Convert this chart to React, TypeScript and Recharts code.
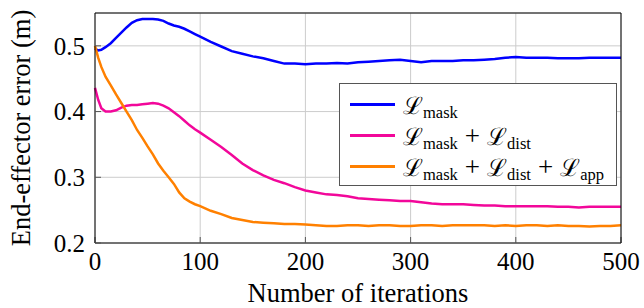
import React from "react";
import {
  LineChart,
  Line,
  XAxis,
  YAxis,
  CartesianGrid,
  Legend,
} from "recharts";

const ITERATIONS = [
  0, 3, 6, 10, 15, 20, 25, 30, 35, 40, 45, 50, 55, 60, 65, 70, 75, 80, 85, 90, 95, 100,
  110, 120, 130, 140, 150, 160, 170, 180, 190, 200, 210, 220, 230, 240, 250, 260, 270,
  280, 290, 300, 310, 320, 330, 340, 350, 360, 370, 380, 390, 400, 410, 420, 430, 440,
  450, 460, 470, 480, 490, 500,
];

const MASK = [
  0.496, 0.493, 0.494, 0.498, 0.504, 0.512, 0.52, 0.528, 0.535, 0.539, 0.541, 0.541,
  0.541, 0.54, 0.538, 0.534, 0.531, 0.529, 0.526, 0.522, 0.518, 0.514,
  0.506, 0.499, 0.492, 0.488, 0.484, 0.481, 0.477, 0.473, 0.473, 0.472, 0.473, 0.473,
  0.474, 0.473, 0.475, 0.476, 0.477, 0.478, 0.479, 0.477, 0.475, 0.477, 0.477, 0.477,
  0.478, 0.478, 0.479, 0.48, 0.482, 0.483, 0.482, 0.482, 0.482, 0.481, 0.481, 0.481,
  0.482, 0.482, 0.482, 0.482,
];

const MASK_DIST = [
  0.436, 0.418, 0.405, 0.4, 0.4, 0.402, 0.406, 0.409, 0.41, 0.41, 0.411, 0.412, 0.413,
  0.412, 0.409, 0.405, 0.399, 0.393, 0.386, 0.379, 0.373, 0.368,
  0.357, 0.346, 0.334, 0.321, 0.311, 0.303, 0.296, 0.291, 0.285, 0.28, 0.277, 0.274,
  0.273, 0.271, 0.268, 0.267, 0.266, 0.265, 0.264, 0.264, 0.262, 0.26, 0.259, 0.259,
  0.259, 0.258, 0.257, 0.257, 0.256, 0.256, 0.256, 0.256, 0.256, 0.255, 0.255, 0.254,
  0.255, 0.255, 0.255, 0.255,
];

const MASK_DIST_APP = [
  0.5, 0.482, 0.468, 0.453, 0.44, 0.426, 0.413, 0.4, 0.387, 0.372, 0.36, 0.347, 0.335,
  0.321, 0.31, 0.3, 0.29, 0.277, 0.268, 0.263, 0.259, 0.256,
  0.249, 0.244, 0.238, 0.235, 0.232, 0.231, 0.23, 0.229, 0.229, 0.228, 0.227, 0.226,
  0.226, 0.227, 0.227, 0.226, 0.227, 0.227, 0.226, 0.226, 0.227, 0.227, 0.226, 0.227,
  0.227, 0.227, 0.227, 0.226, 0.227, 0.226, 0.227, 0.227, 0.226, 0.227, 0.226, 0.226,
  0.225, 0.226, 0.226, 0.227,
];

const X_TICKS = [0, 100, 200, 300, 400, 500];
const Y_TICKS = [0.2, 0.3, 0.4, 0.5];

// legend terms, joined with "+" in the series name
const SERIES = [
  { key: "mask", name: "mask", color: "#0000ff" },
  { key: "maskDist", name: "mask+dist", color: "#f2079a" },
  { key: "maskDistApp", name: "mask+dist+app", color: "#ff8000" },
];

const FONT = "Liberation Serif";

const data = ITERATIONS.map((it, i) => ({
  it,
  mask: MASK[i],
  maskDist: MASK_DIST[i],
  maskDistApp: MASK_DIST_APP[i],
}));

function LossName({ name }: { name: string }) {
  const parts = name.split("+");
  return (
    <span style={{ whiteSpace: "nowrap", fontFamily: FONT }}>
      {parts.map((p, i) => (
        <span key={p}>
          {i > 0 && <span style={{ margin: "0 7px", fontSize: 27 }}>+</span>}
          <span style={{ fontSize: 24 }}>ℒ</span>
          <span style={{ fontSize: 16.5, position: "relative", top: 4 }}>{p}</span>
        </span>
      ))}
    </span>
  );
}

function LegendBox(props: any) {
  const payload = props.payload || [];
  return (
    <div
      style={{
        width: 276,
        height: 96,
        border: "1px solid #555",
        background: "#fff",
        fontFamily: FONT,
        fontSize: 25,
        color: "#000",
        boxSizing: "content-box",
        paddingTop: 5,
        textAlign: "left",
      }}
    >
      {payload.map((entry: any) => (
        <div
          key={entry.value}
          style={{ display: "flex", alignItems: "center", height: 31 }}
        >
          <div
            style={{
              width: 45,
              height: 3,
              background: entry.color,
              marginLeft: 10,
              marginRight: 8,
              flex: "none",
            }}
          />
          <LossName name={entry.value} />
        </div>
      ))}
    </div>
  );
}

export default function App() {
  const tickStyle = { fontSize: 25, fill: "#000", fontFamily: FONT };
  const labelStyle = { fontSize: 26.5, fill: "#000", fontFamily: FONT };
  return (
    <div style={{ position: "absolute", left: 0, top: 0, background: "#fff", fontFamily: FONT }}>
      <LineChart
        width={644}
        height={308}
        data={data}
        margin={{ top: 12, right: 22, bottom: 0, left: 0 }}
        style={{ fontFamily: FONT }}
      >
        <CartesianGrid stroke="#cccccc" strokeWidth={1} />
        <XAxis
          dataKey="it"
          type="number"
          domain={[0, 500]}
          ticks={X_TICKS}
          height={65}
          tick={tickStyle}
          tickSize={-6}
          tickMargin={15}
          tickLine={{ stroke: "#555" }}
          axisLine={{ stroke: "#000" }}
          label={{
            value: "Number of iterations",
            position: "insideBottom",
            offset: 6,
            style: labelStyle,
          }}
        />
        <XAxis
          xAxisId="top"
          orientation="top"
          type="number"
          domain={[0, 500]}
          ticks={X_TICKS}
          height={1}
          tick={false}
          tickSize={-6}
          tickLine={{ stroke: "#555" }}
          axisLine={{ stroke: "#000" }}
        />
        <YAxis
          type="number"
          domain={[0.2, 0.55]}
          ticks={Y_TICKS}
          width={95}
          tick={tickStyle}
          tickSize={-6}
          tickMargin={16}
          tickLine={{ stroke: "#555" }}
          axisLine={{ stroke: "#000" }}
          tickFormatter={(v: number) => v.toFixed(1)}
          label={{
            value: "End-effector error (m)",
            angle: -90,
            position: "insideLeft",
            offset: 21,
            style: { ...labelStyle, textAnchor: "middle" },
          }}
        />
        <YAxis
          yAxisId="right"
          orientation="right"
          type="number"
          domain={[0.2, 0.55]}
          ticks={Y_TICKS}
          width={1}
          tick={false}
          tickSize={-6}
          tickLine={{ stroke: "#555" }}
          axisLine={{ stroke: "#000" }}
        />
        <Legend
          content={<LegendBox />}
          layout="vertical"
          align="center"
          verticalAlign="middle"
          wrapperStyle={{ left: 339, top: 83, width: 278 }}
        />
        {SERIES.map((s) => (
          <Line
            key={s.key}
            type="linear"
            dataKey={s.key}
            name={s.name}
            stroke={s.color}
            strokeWidth={2.5}
            dot={false}
            isAnimationActive={false}
          />
        ))}
      </LineChart>
    </div>
  );
}
